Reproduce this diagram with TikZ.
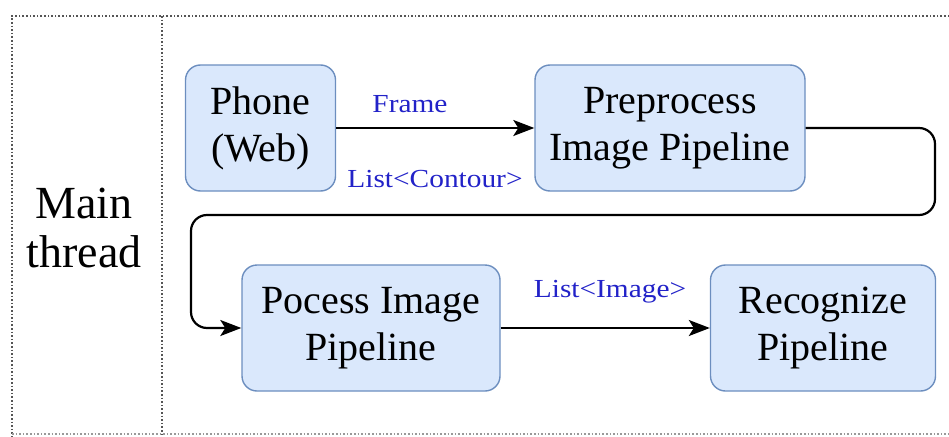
\documentclass[tikz,border=0pt]{standalone}
\usepackage{fontspec}
\setmainfont{Liberation Serif}
\usetikzlibrary{arrows.meta}
\definecolor{boxfill}{HTML}{DAE8FC}
\definecolor{boxline}{HTML}{6C8EBF}
\definecolor{labelblue}{HTML}{2222C8}
\definecolor{frameline}{HTML}{555555}
\newcommand{\widelabel}[1]{\scalebox{1.13}[1]{#1}}
\tikzset{
  stage/.style={draw=boxline, fill=boxfill, line width=1.4pt, rounded corners=15pt,
    align=center, inner sep=0pt, font=\fontsize{40}{47}\selectfont},
  flow/.style={draw=black, line width=2.2pt, -{Stealth[length=21pt,width=16pt,inset=5pt]}},
  flowlabel/.style={text=labelblue, font=\fontsize{26}{30}\selectfont, inner sep=0pt},
  lanebox/.style={draw=frameline, line width=1.6pt, dotted},
}
\begin{document}
\begin{tikzpicture}[x=1pt,y=-1pt]
  \useasboundingbox (0,0) rectangle (949,436);

  % lane frame
  \draw[lanebox] (960,16) -- (12,16) -- (12,440);
  \draw[lanebox] (162,16) -- (162,440);
  \draw[lanebox, draw=frameline!60] (12,434) -- (960,434);

  \node[align=center, font=\fontsize{46}{49}\selectfont] (lane) at (84,228) {Main\\thread};

  % pipeline stages
  \node[stage, minimum width=150pt, minimum height=126pt] (phone) at (260.5,128) {Phone\\(Web)};
  \node[stage, minimum width=270pt, minimum height=126pt] (pre) at (670,128) {Preprocess\\Image Pipeline};
  \node[stage, minimum width=258pt, minimum height=126pt] (proc) at (371,328) {Pocess Image\\Pipeline};
  \node[stage, minimum width=225pt, minimum height=126pt] (rec) at (823,328) {Recognize\\Pipeline};

  % connectors
  \draw[flow] (phone.east) -- (pre.west);
  \node[flowlabel] (lblframe) at (410,104) {\widelabel{Frame}};
  \node[flowlabel] (lblcontour) at (435,179) {\widelabel{List<Contour>}};

  \draw[flow, rounded corners=16pt] (pre.east) -- (935,128) -- (935,215) -- (191,215) -- (191,328) -- (proc.west);

  \draw[flow] (proc.east) -- (rec.west);
  \node[flowlabel] (lblimage) at (610,292) {\widelabel{List<Image>}};
\end{tikzpicture}
\end{document}
